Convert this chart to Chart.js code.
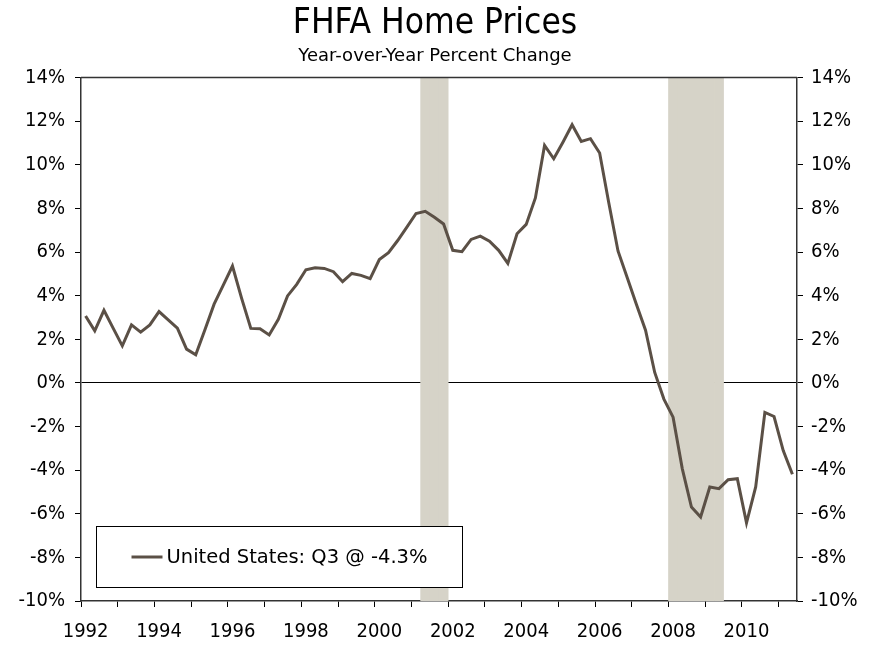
<!DOCTYPE html>
<html>
<head>
<meta charset="utf-8">
<title>FHFA Home Prices</title>
<script src="https://cdn.jsdelivr.net/npm/chart.js@4.4.1/dist/chart.umd.min.js"></script>
<style>
    html, body { margin: 0; padding: 0; background: #fff; }
    #wrap { width: 870px; height: 646px; }
</style>
</head>
<body>
<div id="wrap"><canvas id="fhfaChart" width="870" height="646"></canvas></div>
<script>
// quarters on the x axis (1992 Q1 .. 2011 Q2)
const quarters = [
    '1992 Q1', '1992 Q2', '1992 Q3', '1992 Q4',
    '1993 Q1', '1993 Q2', '1993 Q3', '1993 Q4',
    '1994 Q1', '1994 Q2', '1994 Q3', '1994 Q4',
    '1995 Q1', '1995 Q2', '1995 Q3', '1995 Q4',
    '1996 Q1', '1996 Q2', '1996 Q3', '1996 Q4',
    '1997 Q1', '1997 Q2', '1997 Q3', '1997 Q4',
    '1998 Q1', '1998 Q2', '1998 Q3', '1998 Q4',
    '1999 Q1', '1999 Q2', '1999 Q3', '1999 Q4',
    '2000 Q1', '2000 Q2', '2000 Q3', '2000 Q4',
    '2001 Q1', '2001 Q2', '2001 Q3', '2001 Q4',
    '2002 Q1', '2002 Q2', '2002 Q3', '2002 Q4',
    '2003 Q1', '2003 Q2', '2003 Q3', '2003 Q4',
    '2004 Q1', '2004 Q2', '2004 Q3', '2004 Q4',
    '2005 Q1', '2005 Q2', '2005 Q3', '2005 Q4',
    '2006 Q1', '2006 Q2', '2006 Q3', '2006 Q4',
    '2007 Q1', '2007 Q2', '2007 Q3', '2007 Q4',
    '2008 Q1', '2008 Q2', '2008 Q3', '2008 Q4',
    '2009 Q1', '2009 Q2', '2009 Q3', '2009 Q4',
    '2010 Q1', '2010 Q2', '2010 Q3', '2010 Q4',
    '2011 Q1', '2011 Q2'
];

// year-over-year % change, United States
const usPrices = [
    3.07, 2.39, 3.33, 2.51, 1.70, 2.66, 2.33, 2.66, 3.27, 2.89,
    2.51, 1.55, 1.29, 2.44, 3.61, 4.48, 5.36, 3.88, 2.50, 2.48,
    2.20, 2.92, 3.99, 4.52, 5.19, 5.28, 5.25, 5.10, 4.64, 5.02,
    4.93, 4.78, 5.66, 5.97, 6.53, 7.14, 7.77, 7.87, 7.60, 7.29,
    6.08, 6.02, 6.58, 6.73, 6.50, 6.08, 5.48, 6.84, 7.27, 8.48,
    10.89, 10.28, 11.04, 11.84, 11.07, 11.20, 10.54, 8.25, 6.05, 4.83,
    3.61, 2.42, 0.48, -0.74, -1.57, -3.93, -5.69, -6.15, -4.77, -4.85,
    -4.44, -4.39, -6.42, -4.77, -1.35, -1.54, -3.10, -4.19
];

// shaded recession quarters
const recessionQuarters = [
    '2001 Q2', '2001 Q3', '2001 Q4',
    '2008 Q1', '2008 Q2', '2008 Q3', '2008 Q4', '2009 Q1', '2009 Q2'
];

const yMin = -10;
const yMax = 14;
const yStep = 2;

const seriesLabel = 'United States: Q3 @ -4.3%';
const lineColor = '#5b5046';
const shadeColor = '#d6d3c8';
const fontFamily = "'DejaVu Sans Condensed', 'DejaVu Sans', sans-serif";
const wideFamily = "'DejaVu Sans', sans-serif";

Chart.defaults.font.family = fontFamily;
Chart.defaults.color = '#000';

// 범례 상자 + 위쪽 테두리
const boxPlugin = {
    id: 'boxPlugin',
    afterDatasetsDraw(chart) {
        const { ctx, chartArea } = chart;
        const left = chartArea.left + 15.5;
        const bottom = chartArea.bottom - 13.5;
        const w = 366;
        const h = 61;
        ctx.save();
        ctx.fillStyle = '#fff';
        ctx.fillRect(left, bottom - h, w, h);
        ctx.strokeStyle = '#000';
        ctx.lineWidth = 1;
        ctx.strokeRect(left, bottom - h, w, h);

        const midY = bottom - h / 2;
        ctx.strokeStyle = lineColor;
        ctx.lineWidth = 3;
        ctx.beginPath();
        ctx.moveTo(left + 35, midY);
        ctx.lineTo(left + 66, midY);
        ctx.stroke();

        ctx.fillStyle = '#000';
        ctx.font = '19.5px ' + wideFamily;
        ctx.textBaseline = 'middle';
        ctx.textAlign = 'left';
        ctx.fillText(chart.data.datasets[0].label, left + 70, midY + 1);
        ctx.restore();
    },
    afterDraw(chart) {
        const { ctx, chartArea } = chart;
        ctx.save();
        ctx.strokeStyle = '#333';
        ctx.lineWidth = 1.5;
        ctx.beginPath();
        ctx.moveTo(chartArea.left, chartArea.top);
        ctx.lineTo(chartArea.right, chartArea.top);
        ctx.stroke();
        ctx.restore();
    }
};

const ctx = document.getElementById('fhfaChart').getContext('2d');

new Chart(ctx, {
    data: {
        labels: quarters,
        datasets: [
            {
                type: 'line',
                label: seriesLabel,
                data: usPrices,
                borderColor: lineColor,
                borderWidth: 3,
                pointRadius: 0,
                tension: 0,
                order: 0
            },
            {
                type: 'bar',
                label: 'Recession',
                data: quarters.map(q => recessionQuarters.includes(q) ? [yMin, yMax] : null),
                backgroundColor: shadeColor,
                borderWidth: 0,
                barPercentage: 1,
                categoryPercentage: 1,
                order: 1
            }
        ]
    },
    options: {
        responsive: false,
        animation: false,
        devicePixelRatio: 1,
        layout: { padding: 0 },
        plugins: {
            legend: { display: false },
            tooltip: { enabled: false },
            title: {
                display: true,
                text: 'FHFA Home Prices',
                font: { size: 35, weight: 'normal' },
                color: '#000',
                padding: { top: 3, bottom: 0 }
            },
            subtitle: {
                display: true,
                text: 'Year-over-Year Percent Change',
                font: { family: wideFamily, size: 18, weight: 'normal' },
                color: '#000',
                padding: { top: 1, bottom: 10 }
            }
        },
        scales: {
            x: {
                type: 'category',
                offset: true,
                afterFit: s => { s.height = 45; },
                border: { display: true, color: '#333', width: 1.5 },
                grid: {
                    offset: true,
                    drawOnChartArea: false,
                    tickLength: 6,
                    tickColor: c => (c.index % 4 === 0 ? '#000' : 'rgba(0,0,0,0)'),
                    color: 'rgba(0,0,0,0)'
                },
                ticks: {
                    autoSkip: false,
                    maxRotation: 0,
                    padding: 13,
                    font: { size: 20 },
                    callback: (v, i) => (i % 8 === 0 ? quarters[i].slice(0, 4) : '')
                }
            },
            y: {
                position: 'left',
                min: yMin,
                max: yMax,
                z: 1,
                afterFit: s => { s.width = 81; },
                border: { display: true, color: '#333', width: 1.5 },
                grid: {
                    tickLength: 6,
                    tickColor: '#000',
                    color: c => (c.tick && c.tick.value === 0 ? '#000' : 'rgba(0,0,0,0)'),
                    lineWidth: 1
                },
                ticks: {
                    stepSize: yStep,
                    padding: 10,
                    font: { size: 20 },
                    callback: v => v + '%'
                }
            },
            y2: {
                position: 'right',
                min: yMin,
                max: yMax,
                afterFit: s => { s.width = 73; },
                border: { display: true, color: '#333', width: 1.5 },
                grid: {
                    drawOnChartArea: false,
                    tickLength: 6,
                    tickColor: '#000'
                },
                ticks: {
                    stepSize: yStep,
                    padding: 8,
                    font: { size: 20 },
                    callback: v => v + '%'
                }
            }
        }
    },
    plugins: [boxPlugin]
});
</script>
</body>
</html>
